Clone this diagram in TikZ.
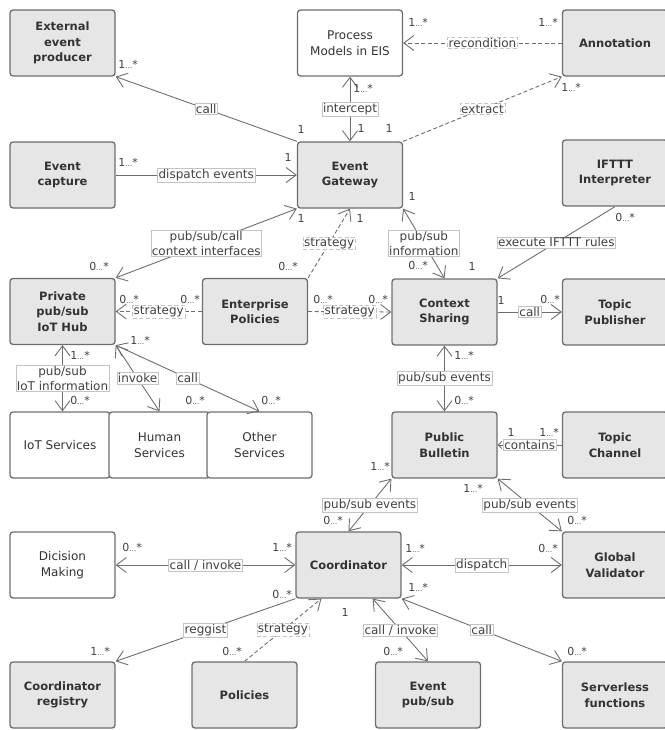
\documentclass[tikz,border=0pt]{standalone}
\usepackage{fontspec}
\setmainfont{DejaVu Sans}
\usepackage{xcolor}
\definecolor{boxgray}{HTML}{E6E6E6}
\definecolor{edgegray}{HTML}{6E6E6E}
\definecolor{linegray}{HTML}{6E6E6E}
\definecolor{tagline}{HTML}{C4C4C4}
\usetikzlibrary{arrows.meta,calc}

\newcommand\many[1]{#1{\fontsize{7}{7}\selectfont…}*}

\tikzset{
  comp/.style={draw=edgegray,line width=1.3pt,fill=boxgray,rounded corners=3pt,
               minimum width=105pt,minimum height=66pt,align=center,text=black!80,
               font=\fontsize{11.5}{15.5}\selectfont\bfseries},
  compw/.style={comp,fill=white,font=\fontsize{12}{15.5}\selectfont},
  conn/.style={draw=linegray,line width=0.9pt},
  dashconn/.style={conn,dash pattern=on 4pt off 2.5pt},
  lbl/.style={fill=white,draw=tagline,line width=0.5pt,inner sep=1pt,align=center,
              text=black!75,font=\fontsize{12}{15}\selectfont},
  mult/.style={inner sep=0pt,text=black!75,font=\fontsize{11}{12}\selectfont}
}

\begin{document}
\begin{tikzpicture}[x=1pt,y=-1pt,>={Straight Barb[length=10pt,width=15pt]}]
  \useasboundingbox (0,0) rectangle (664,730);

  % components
  \node[comp] (eep) at (62.5,43) {External\\event\\producer};
  \node[compw] (pmeis) at (350,43) {Process\\Models in EIS};
  \node[comp] (annot) at (615,43) {Annotation};
  \node[comp] (evcap) at (62.5,175) {Event\\capture};
  \node[comp] (gw) at (350,175) {Event\\Gateway};
  \node[comp] (ifttt) at (615,173) {IFTTT\\Interpreter};
  \node[comp] (hub) at (62.5,311.5) {Private\\pub/sub\\IoT Hub};
  \node[comp] (entpol) at (255,311.5) {Enterprise\\Policies};
  \node[comp] (ctx) at (444.5,312) {Context\\Sharing};
  \node[comp] (tpub) at (615,312) {Topic\\Publisher};
  \node[compw,minimum width=100pt] (iot) at (60,445) {IoT Services};
  \node[compw,minimum width=101pt] (human) at (159.5,445) {Human\\Services};
  \node[compw] (other) at (259.5,445) {Other\\Services};
  \node[comp] (pbul) at (444.5,445) {Public\\Bulletin};
  \node[comp] (tch) at (615,445) {Topic\\Channel};
  \node[compw] (decide) at (62.5,565) {Dicision\\Making};
  \node[comp] (coord) at (348.5,565) {Coordinator};
  \node[comp] (gval) at (615,565) {Global\\Validator};
  \node[comp] (creg) at (62.5,695) {Coordinator\\registry};
  \node[comp] (pol) at (244.5,695) {Policies};
  \node[comp] (evps) at (428,695) {Event\\pub/sub};
  \node[comp] (svl) at (615,695) {Serverless\\functions};

  % event gateway
  \draw[conn,->] (gw.north west) -- node[lbl] {call} (eep.south east);
  \draw[conn,->] (evcap.east) -- node[lbl] {dispatch events} (gw.west);
  \draw[conn,<->] (pmeis.south) -- node[lbl] {intercept} (gw.north);
  \draw[dashconn,->] (gw.north east) -- node[lbl] {extract} (annot.south west);
  \draw[dashconn,->] (annot.west) -- node[lbl] {recondition} (pmeis.east);
  \draw[conn,<->] (hub.north east) -- node[lbl] {pub/sub/call\\context interfaces} (gw.south west);
  \draw[dashconn,->] (entpol.north east) -- node[lbl] {strategy} (gw.south);
  \draw[conn,<->] (gw.south east) -- node[lbl] {pub/sub\\information} (ctx.north);
  \draw[conn,->] (ifttt.south) -- node[lbl] {execute IFTTT rules} (ctx.north east);

  % policies and context
  \draw[dashconn,->] (entpol.west) -- node[lbl] {strategy} (hub.east);
  \draw[dashconn,->] (entpol.east) -- node[lbl] {strategy} (ctx.west);
  \draw[conn,->] (ctx.east) -- node[lbl] {call} (tpub.west);
  \draw[conn,<->] (hub.south) -- node[lbl] {pub/sub\\IoT information} (hub.south |- iot.north);
  \draw[conn,<->] (hub.south east) -- node[lbl] {invoke} (human.north);
  \draw[conn,<->] (hub.south east) -- node[lbl] {call} (other.north);
  \draw[conn,<->] (ctx.south) -- node[lbl] {pub/sub events} (pbul.north);
  \draw[conn,-{Straight Barb[length=3.5pt,width=7pt]}] (tch.west) -- node[lbl] {contains} (pbul.east);

  % coordinator
  \draw[conn,<->] (pbul.south west) -- node[lbl] {pub/sub events} (coord.north);
  \draw[conn,<->] (pbul.south east) -- node[lbl] {pub/sub events} (gval.north west);
  \draw[conn,<->] (decide.east) -- node[lbl] {call / invoke} (coord.west);
  \draw[conn,<->] (coord.east) -- node[lbl] {dispatch} (gval.west);
  \draw[conn,->] (coord.south west) -- node[lbl] {reggist} (creg.north east);
  \draw[dashconn,->] (pol.north) -- node[lbl] {strategy} ([xshift=26pt]coord.south west);
  \draw[conn,<->] ([xshift=-29pt]coord.south east) -- node[lbl] {call / invoke} (evps.north);
  \draw[conn,<->] (coord.south east) -- node[lbl] {call} (svl.north west);

  % multiplicities
  \foreach \x/\y/\t [count=\i] in {
    128/64/\many1, 301/129/1, 128/162/\many1, 288/157/1,
    363/88/\many1, 361/128/1, 389/128/1, 571/87/\many1,
    418/22/\many1, 548/22/\many1, 99/266/\many0, 301/218/1,
    288/266/\many0, 360/218/1, 412/196/1, 418/265/\many0,
    625/217/\many0, 472/266/1, 129/299/\many0, 190/299/\many0,
    323/299/\many0, 378/299/\many0, 501/300/1, 550/299/\many0,
    80/355/\many1, 80/400/\many0, 140/340/\many1, 195/400/\many0,
    271/400/\many0, 464/355/\many1, 464/400/\many0, 511/432/1,
    549/432/\many1, 380/466/\many1, 333/520/\many0, 473/488/\many1,
    577/520/\many0, 132/547/\many0, 282/547/\many1, 415/548/\many1,
    548/548/\many0, 282/594/\many0, 100/651/\many1, 232/651/\many0,
    345/612/1, 393/651/\many0, 418/587/\many1, 577/651/\many0}
    \node[mult] (m\i) at (\x,\y) {\t};
\end{tikzpicture}
\end{document}
